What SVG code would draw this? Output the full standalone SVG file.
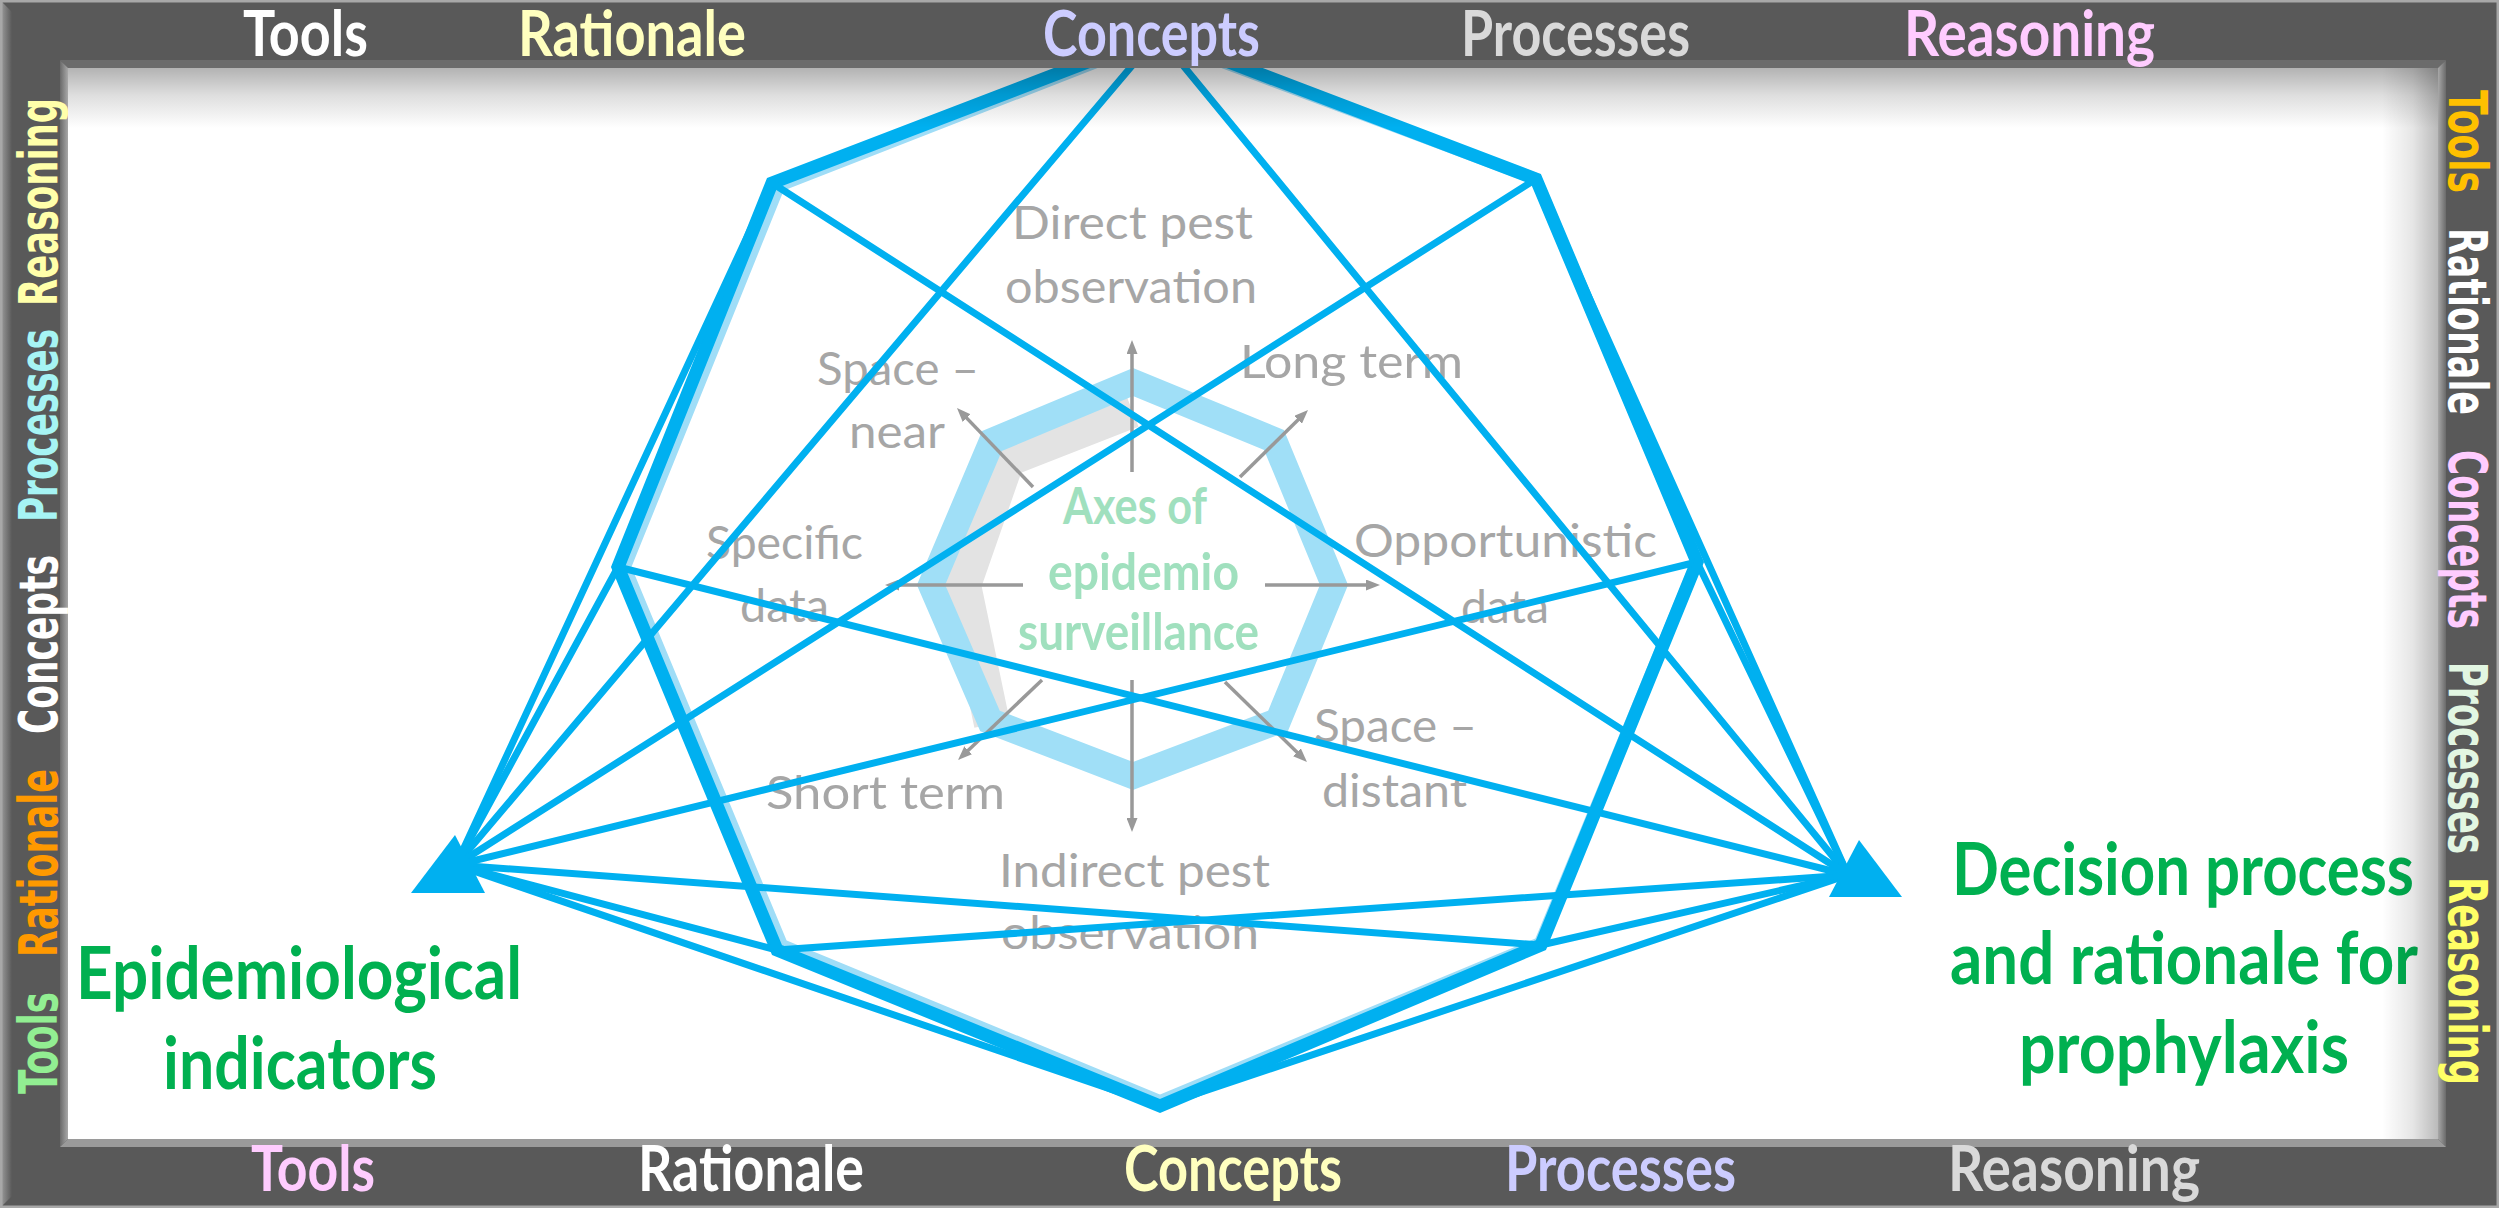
<svg xmlns="http://www.w3.org/2000/svg" width="2499" height="1208" viewBox="0 0 2499 1208">
<defs>
<style>
.lbl{font-family:Lato,"Open Sans","DejaVu Sans",sans-serif;font-size:46px;fill:#A6A6A6}
.mint{font-family:Lato,"Open Sans","DejaVu Sans",sans-serif;font-weight:700;font-size:52px;fill:#A0E0BE}
.green{font-family:Lato,"Open Sans","DejaVu Sans",sans-serif;font-weight:700;font-size:73px;fill:#00B050}
.bar{font-family:Lato,"Open Sans","DejaVu Sans",sans-serif;font-weight:700;font-size:64px}
.side{font-family:"DejaVu Sans","Open Sans",sans-serif;font-weight:700;font-size:54px}
.axis{stroke:#999999;stroke-width:3.5;fill:none;marker-end:url(#ah)}
.conn{stroke:#00B0F0;stroke-width:7;fill:none;stroke-linecap:round}
</style>
<marker id="ah" viewBox="0 0 14 11" markerWidth="14" markerHeight="11" markerUnits="userSpaceOnUse" refX="3" refY="5.5" orient="auto">
<path d="M0,0 L14,5.5 L0,11 z" fill="#999999"/>
</marker>
<linearGradient id="shTop" x1="0" y1="0" x2="0" y2="1">
<stop offset="0" stop-color="#000" stop-opacity="0.3"/>
<stop offset="0.45" stop-color="#000" stop-opacity="0.13"/>
<stop offset="1" stop-color="#000" stop-opacity="0"/>
</linearGradient>
<linearGradient id="shRight" x1="0" y1="0" x2="1" y2="0">
<stop offset="0" stop-color="#000" stop-opacity="0"/>
<stop offset="0.55" stop-color="#000" stop-opacity="0.1"/>
<stop offset="1" stop-color="#000" stop-opacity="0.27"/>
</linearGradient>
<linearGradient id="bevL" x1="0" y1="0" x2="1" y2="0">
<stop offset="0" stop-color="#6A6A6A"/>
<stop offset="1" stop-color="#A8A8A8"/>
</linearGradient>
<linearGradient id="bevR" x1="0" y1="0" x2="1" y2="0">
<stop offset="0" stop-color="#A8A8A8"/>
<stop offset="1" stop-color="#6A6A6A"/>
</linearGradient>
<linearGradient id="outL" x1="0" y1="0" x2="1" y2="0">
<stop offset="0" stop-color="#A0A0A0"/>
<stop offset="1" stop-color="#595959"/>
</linearGradient>
</defs>

<rect x="0" y="0" width="2499" height="1208" fill="#FFFFFF"/>

<g id="radar">
<polyline points="992,724 963,585 1007,459 1132,410" fill="none" stroke="#E3E3E3" stroke-width="36" stroke-linejoin="miter"/>
<polygon points="1133,382 1274,440 1334,585 1278,721 1133,776 990,721 931,585 992,441" fill="none" stroke="#A0DFF7" stroke-width="26" stroke-linejoin="miter"/>
<line class="axis" x1="1132" y1="472" x2="1132" y2="351"/>
<line class="axis" x1="1132" y1="680" x2="1132" y2="821"/>
<line class="axis" x1="1023" y1="585" x2="896" y2="585"/>
<line class="axis" x1="1265" y1="585" x2="1369" y2="585"/>
<line class="axis" x1="1033" y1="487" x2="964.6" y2="415.9"/>
<line class="axis" x1="1240" y1="477" x2="1300.2" y2="417.7"/>
<line class="axis" x1="1042" y1="680" x2="966" y2="752.4"/>
<line class="axis" x1="1225" y1="682" x2="1299.1" y2="754.3"/>
</g>

<g id="axis-labels">
<text class="lbl" x="1012" y="239" textLength="241" lengthAdjust="spacingAndGlyphs">Direct pest</text>
<text class="lbl" x="1005" y="303" textLength="252" lengthAdjust="spacingAndGlyphs">observation</text>
<text class="lbl" x="817" y="385" textLength="162" lengthAdjust="spacingAndGlyphs">Space –</text>
<text class="lbl" x="849" y="448" textLength="96" lengthAdjust="spacingAndGlyphs">near</text>
<text class="lbl" x="1240" y="378" textLength="223" lengthAdjust="spacingAndGlyphs">Long term</text>
<text class="lbl" x="706" y="559" textLength="157" lengthAdjust="spacingAndGlyphs">Specific</text>
<text class="lbl" x="740" y="622" textLength="89" lengthAdjust="spacingAndGlyphs">data</text>
<text class="lbl" x="1354" y="557" textLength="303" lengthAdjust="spacingAndGlyphs">Opportunistic</text>
<text class="lbl" x="1461" y="623" textLength="88" lengthAdjust="spacingAndGlyphs">data</text>
<text class="lbl" x="1314" y="742" textLength="163" lengthAdjust="spacingAndGlyphs">Space –</text>
<text class="lbl" x="1322" y="807" textLength="145" lengthAdjust="spacingAndGlyphs">distant</text>
<text class="lbl" x="766" y="809" textLength="239" lengthAdjust="spacingAndGlyphs">Short term</text>
<text class="lbl" x="999" y="887" textLength="271" lengthAdjust="spacingAndGlyphs">Indirect pest</text>
<text class="lbl" x="1001" y="949" textLength="258" lengthAdjust="spacingAndGlyphs">observation</text>
</g>

<g id="center-label">
<text class="mint" x="1063" y="524" textLength="144" lengthAdjust="spacingAndGlyphs">Axes of</text>
<text class="mint" x="1048" y="590" textLength="191" lengthAdjust="spacingAndGlyphs">epidemio</text>
<text class="mint" x="1018" y="650" textLength="241" lengthAdjust="spacingAndGlyphs">surveillance</text>
</g>

<g id="connectors">
<polygon points="1158,38 1536,179 1697,562 1540,943 1160,1101 782,945 625,567 779,186" fill="none" stroke="#9FDDF7" stroke-width="12" stroke-linejoin="miter"/>
<polygon points="1158,35 1536,179 1697,562 1541,945 1160,1106 777,950 618,567 772,183" fill="none" stroke="#00B0F0" stroke-width="13" stroke-linejoin="miter"/>
<line class="conn" x1="456" y1="865" x2="1158" y2="35"/>
<line class="conn" x1="456" y1="865" x2="1536" y2="179"/>
<line class="conn" x1="456" y1="865" x2="1697" y2="562"/>
<line class="conn" x1="456" y1="865" x2="1541" y2="945"/>
<line class="conn" x1="456" y1="865" x2="1160" y2="1106"/>
<line class="conn" x1="456" y1="865" x2="777" y2="950"/>
<line class="conn" x1="456" y1="865" x2="618" y2="567"/>
<line class="conn" x1="456" y1="865" x2="772" y2="183"/>
<line class="conn" x1="1848" y1="875" x2="1158" y2="35"/>
<line class="conn" x1="1848" y1="875" x2="1536" y2="179"/>
<line class="conn" x1="1848" y1="875" x2="1697" y2="562"/>
<line class="conn" x1="1848" y1="875" x2="1541" y2="945"/>
<line class="conn" x1="1848" y1="875" x2="1160" y2="1106"/>
<line class="conn" x1="1848" y1="875" x2="777" y2="950"/>
<line class="conn" x1="1848" y1="875" x2="618" y2="567"/>
<line class="conn" x1="1848" y1="875" x2="772" y2="183"/>
</g>

<g id="node-epidemiological-indicators">
<polygon points="455,835 411,893 485,893" fill="#00B0F0"/>
<text class="green" x="76" y="999" textLength="446" lengthAdjust="spacingAndGlyphs">Epidemiological</text>
<text class="green" x="163" y="1089" textLength="274" lengthAdjust="spacingAndGlyphs">indicators</text>
</g>

<g id="node-decision-process">
<polygon points="1859,840 1829,897 1902,897" fill="#00B0F0"/>
<text class="green" x="1952" y="895" textLength="462" lengthAdjust="spacingAndGlyphs">Decision process</text>
<text class="green" x="1950" y="984" textLength="468" lengthAdjust="spacingAndGlyphs">and rationale for</text>
<text class="green" x="2019" y="1073" textLength="330" lengthAdjust="spacingAndGlyphs">prophylaxis</text>
</g>

<g id="inner-shadow">
<rect x="68" y="68" width="2370" height="60" fill="url(#shTop)"/>
<rect x="2382" y="68" width="56" height="1071" fill="url(#shRight)"/>
</g>

<g id="frame">
<path d="M0,0 H2499 V1208 H0 Z M68,68 V1139 H2438 V68 Z" fill="#595959" fill-rule="evenodd"/>
<polygon points="0,0 12,12 12,1196 0,1208" fill="url(#outL)"/>
<rect x="1" y="1" width="2497" height="1206" fill="none" stroke="#A8A8A8" stroke-width="3"/>
<polygon points="60,60 2446,60 2438,68 68,68" fill="#6B6B6B"/>
<polygon points="60,60 68,68 68,1139 60,1147" fill="url(#bevL)"/>
<polygon points="2446,60 2446,1147 2438,1139 2438,68" fill="url(#bevR)"/>
<polygon points="60,1147 68,1139 2438,1139 2446,1147" fill="#9A9A9A"/>
</g>

<g id="frame-top">
<text class="bar" x="243" y="56" fill="#FFFFFF" textLength="125" lengthAdjust="spacingAndGlyphs">Tools</text>
<text class="bar" x="518" y="56" fill="#FFFFBF" textLength="228" lengthAdjust="spacingAndGlyphs">Rationale</text>
<text class="bar" x="1043" y="56" fill="#CCCCFF" textLength="217" lengthAdjust="spacingAndGlyphs">Concepts</text>
<text class="bar" x="1461" y="56" fill="#D9D9D9" textLength="229" lengthAdjust="spacingAndGlyphs">Processes</text>
<text class="bar" x="1904" y="56" fill="#FFCCFF" textLength="251" lengthAdjust="spacingAndGlyphs">Reasoning</text>
</g>

<g id="frame-bottom">
<text class="bar" x="251" y="1191" fill="#FFCCFF" textLength="124" lengthAdjust="spacingAndGlyphs">Tools</text>
<text class="bar" x="638" y="1191" fill="#FFFFFF" textLength="226" lengthAdjust="spacingAndGlyphs">Rationale</text>
<text class="bar" x="1124" y="1191" fill="#FFFFBF" textLength="218" lengthAdjust="spacingAndGlyphs">Concepts</text>
<text class="bar" x="1505" y="1191" fill="#CCCCFF" textLength="231" lengthAdjust="spacingAndGlyphs">Processes</text>
<text class="bar" x="1948" y="1191" fill="#D9D9D9" textLength="252" lengthAdjust="spacingAndGlyphs">Reasoning</text>
</g>

<g id="frame-left">
<text class="side" transform="translate(57,1094) rotate(-90)" fill="#92EE92" textLength="102" lengthAdjust="spacingAndGlyphs">Tools</text>
<text class="side" transform="translate(57,957) rotate(-90)" fill="#FF9900" textLength="188" lengthAdjust="spacingAndGlyphs">Rationale</text>
<text class="side" transform="translate(57,734) rotate(-90)" fill="#FFFFFF" textLength="179" lengthAdjust="spacingAndGlyphs">Concepts</text>
<text class="side" transform="translate(57,522) rotate(-90)" fill="#A6F4F4" textLength="193" lengthAdjust="spacingAndGlyphs">Processes</text>
<text class="side" transform="translate(57,306) rotate(-90)" fill="#FFFFAA" textLength="208" lengthAdjust="spacingAndGlyphs">Reasoning</text>
</g>

<g id="frame-right">
<text class="side" transform="translate(2449,90) rotate(90)" fill="#FFC000" textLength="103" lengthAdjust="spacingAndGlyphs">Tools</text>
<text class="side" transform="translate(2449,228) rotate(90)" fill="#FFFFFF" textLength="187" lengthAdjust="spacingAndGlyphs">Rationale</text>
<text class="side" transform="translate(2449,450) rotate(90)" fill="#FFCCFF" textLength="179" lengthAdjust="spacingAndGlyphs">Concepts</text>
<text class="side" transform="translate(2449,662) rotate(90)" fill="#E2F6E2" textLength="192" lengthAdjust="spacingAndGlyphs">Processes</text>
<text class="side" transform="translate(2449,877) rotate(90)" fill="#FFFF66" textLength="208" lengthAdjust="spacingAndGlyphs">Reasoning</text>
</g>
</svg>
